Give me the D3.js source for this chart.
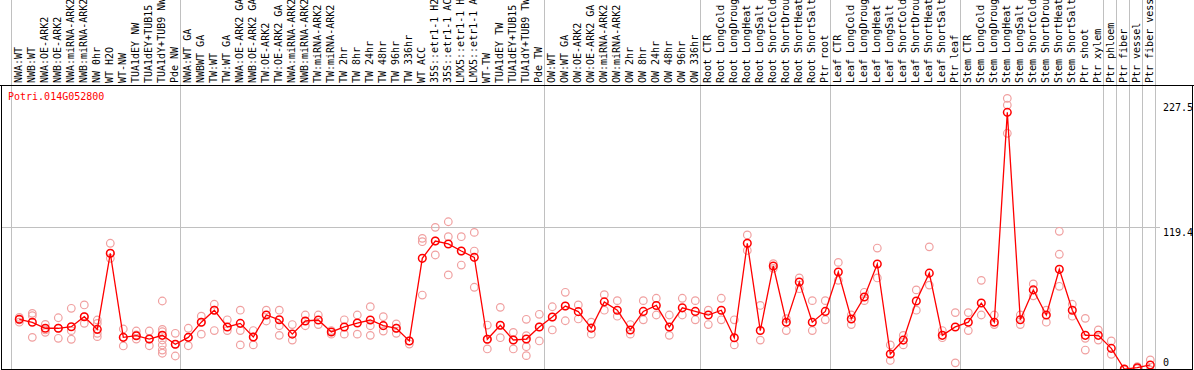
<!DOCTYPE html>
<html><head><meta charset="utf-8">
<script src="https://cdn.jsdelivr.net/npm/d3@7"></script>
<style>html,body{margin:0;padding:0;background:#fff;overflow:hidden}</style>
</head><body>
<svg id="c" width="1194" height="370"></svg>
<script>
const categories = ["NWA:WT","NWB:WT","NWA:OE-ARK2","NWB:OE-ARK2","NWA:miRNA-ARK2","NWB:miRNA-ARK2","NW 0hr","WT H2O","WT-NW","TUA1dEY NW","TUA1dEY+TUB15","TUA1dY+TUB9 NW","Pde NW",
"NWA:WT GA","NWBWT GA","TW:WT","TW:WT GA","NWA:OE-ARK2 GA","NWB:OE-ARK2 GA","TW:OE-ARK2","TW:OE-ARK2 GA","NWA:miRNA-ARK2","NWB:miRNA-ARK2","TW:miRNA-ARK2","TW:miRNA-ARK2","TW 2hr","TW 8hr","TW 24hr","TW 48hr","TW 96hr","TW 336hr","WT ACC","35S::etr1-1 H2","35S::etr1-1 AC","LMX5::etr1-1 H","LMX5::etr1-1 A","WT-TW","TUA1dEY TW","TUA1dEY+TUB15","TUA1dY+TUB9 TW","Pde TW",
"OW:WT","OW:WT GA","OW:OE-ARK2","OW:OE-ARK2 GA","OW:miRNA-ARK2","OW:miRNA-ARK2","OW 2hr","OW 8hr","OW 24hr","OW 48hr","OW 96hr","OW 336hr",
"Root CTR","Root LongCold","Root LongDroug","Root LongHeat","Root LongSalt","Root ShortCold","Root ShortDrou","Root ShortHeat","Root ShortSalt","Ptr root",
"Leaf CTR","Leaf LongCold","Leaf LongDroug","Leaf LongHeat","Leaf LongSalt","Leaf ShortCold","Leaf ShortDrou","Leaf ShortHeat","Leaf ShortSalt","Ptr leaf",
"Stem CTR","Stem LongCold","Stem LongDroug","Stem LongHeat","Stem LongSalt","Stem ShortCold","Stem ShortDrou","Stem ShortHeat","Stem ShortSalt","Ptr shoot","Ptr xylem",
"Ptr phloem","Ptr fiber","Ptr vessel","Ptr fiber vess"];

const means = [42.4,39.9,34.9,34.9,36.2,44.6,34.0,97.6,27.3,28.7,25.9,29.0,21.5,
27.3,40,50,36,39,27.6,46,42,30,41,41.8,31.8,36,39.3,41.8,37.1,34.9,24.3,93.4,107.9,105.4,99.5,94.2,25.7,37.4,25.1,25.9,36,
44.3,53.5,48.8,35,57,50,33.5,49,54,36,52,49,
46,50,27,106,33,87,40,73.6,40,49,
82,42.7,61,88.7,13.4,25,57.7,81,29,36,
40,56,40,215.5,42,67,46,84.2,50,29,29,
18.1,0.8,1.9,4.2];

const replicates = [
[44,40,42],[47.4,45.4,27.3],[38.2,33.5,31.5],[43.7,34.9,26.5],[51.6,32.9,25.7],[54.4,44.6,39.0],[41.8,39,30.7,27.9],[106,97.6,93.4],[34.3,27.3,20.1],[32.6,29.3,25.9],[32.6,25.9,20.3],[57.7,34,32,25.1,20.9,16.7,14],[30.7,21.5,11.7],
[34.9,27.3,20.3],[45,40,30],[55,50,33],[42,33],[50,33,21],[33,27.6,21],[50,41],[50,37,29],[38,25],[46,37],[46,38],[33,30],[42,30],[46,30],[53,37,29],[44.6,37.1,32.6],[38.5,34.9,30.7],[24.3,21.7],[110.1,107.3,62.7],[119.3,107.9,96.2],[124,111.5,79.5],[111.5,99.5,87.8],[115.1,99.5,69.2],[37.6,25.7,17.6],[52.4,37.4,27],[31.5,25.1,17.6],[42.4,28.7,19.5,12],[46.6,36,24.3],
[52.9,44.3,33.5],[65,53.5,41.2],[54.4,42.7],[40,30],[63,50],[58,45],[38,30],[58,42],[60,46],[46,29],[60,46],[58,42],
[50,38],[60,42],[42,21],[113,100],[54,25],[89,85],[43,33],[77,68],[58,33],[58,42],
[90,75],[46,38],[65,58],[102,77],[21,8],[29,21],[67,50],[103,71],[33,27],[48,6],
[48,33],[75,46],[46,38],[227.2,221.6,198],[46,38],[72,62],[50,40],[116,96.8,70],[55,45],[43.2,26.5,16.7],[33.5,25],
[24.3,13.1],[0.8,0],[2.8,1],[8.4,0]];

const yTicks = [0, 119.4, 227.5];
const geneId = "Potri.014G052800";
const groupStarts = [0, 13, 41, 53, 63, 73, 84, 85, 86, 87, 88];

const W = 1194, H = 370;
const svg = d3.select("#c");
const font = "'DejaVu Sans Mono', monospace";

const x = d3.scaleLinear().domain([0, categories.length - 1]).range([19.3, 1150.3]);
const y = d3.scaleLinear().domain([0, d3.max(yTicks)]).range([370, 98]);

svg.append("g").selectAll("line").data(groupStarts).join("line")
  .attr("x1", d => Math.round(x(d - 1) + 4.7) + 0.5)
  .attr("x2", d => Math.round(x(d - 1) + 4.7) + 0.5)
  .attr("y1", 0).attr("y2", 369)
  .attr("stroke", "#c0c0c0").attr("stroke-width", 1);

svg.append("line")
  .attr("x1", 1).attr("x2", 1160)
  .attr("y1", Math.round(y(yTicks[1])) + 0.5).attr("y2", Math.round(y(yTicks[1])) + 0.5)
  .attr("stroke", "#c0c0c0");

svg.append("line").attr("x1", 0).attr("x2", W).attr("y1", 85.5).attr("y2", 85.5).attr("stroke", "#000");
svg.append("line").attr("x1", 1.5).attr("x2", 1.5).attr("y1", 85).attr("y2", 370).attr("stroke", "#000");
svg.append("line").attr("x1", 1192.5).attr("x2", 1192.5).attr("y1", 85).attr("y2", 370).attr("stroke", "#000");
svg.append("line").attr("x1", 1).attr("x2", 1193).attr("y1", 369.5).attr("y2", 369.5).attr("stroke", "#000");

svg.append("g").selectAll("text").data(categories).join("text")
  .attr("transform", (d, i) => `translate(${x(i) + 3},83) rotate(-90)`)
  .attr("font-family", font).attr("font-size", 10).attr("fill", "#000")
  .text(d => d);

svg.append("text").attr("x", 8).attr("y", 100)
  .attr("font-family", font).attr("font-size", 10).attr("fill", "#ff0000")
  .text(geneId);

svg.append("g").selectAll("text").data(yTicks).join("text")
  .attr("x", 1163)
  .attr("y", d => Math.max(111, Math.min(366, y(d) + 9)))
  .attr("font-family", font).attr("font-size", 10).attr("fill", "#000")
  .text(d => d);

svg.append("clipPath").attr("id", "clip").append("rect")
  .attr("x", 2).attr("y", 86).attr("width", 1190).attr("height", 283);
const g = svg.append("g").attr("clip-path", "url(#clip)");

const repPts = replicates.flatMap((arr, i) => arr.map(v => ({i, v})));
g.append("g").selectAll("circle").data(repPts).join("circle")
  .attr("cx", d => x(d.i)).attr("cy", d => y(d.v)).attr("r", 3.8)
  .attr("fill", "none").attr("stroke", "#f0a0a0").attr("stroke-width", 1.2);

g.append("path").datum(means)
  .attr("d", d3.line().x((d, i) => x(i)).y(d => y(d)))
  .attr("fill", "none").attr("stroke", "#ff0000").attr("stroke-width", 1.3);

g.append("g").selectAll("circle").data(means).join("circle")
  .attr("cx", (d, i) => x(i)).attr("cy", d => y(d)).attr("r", 3.8)
  .attr("fill", "none").attr("stroke", "#ff0000").attr("stroke-width", 1.5);
</script>
</body></html>
